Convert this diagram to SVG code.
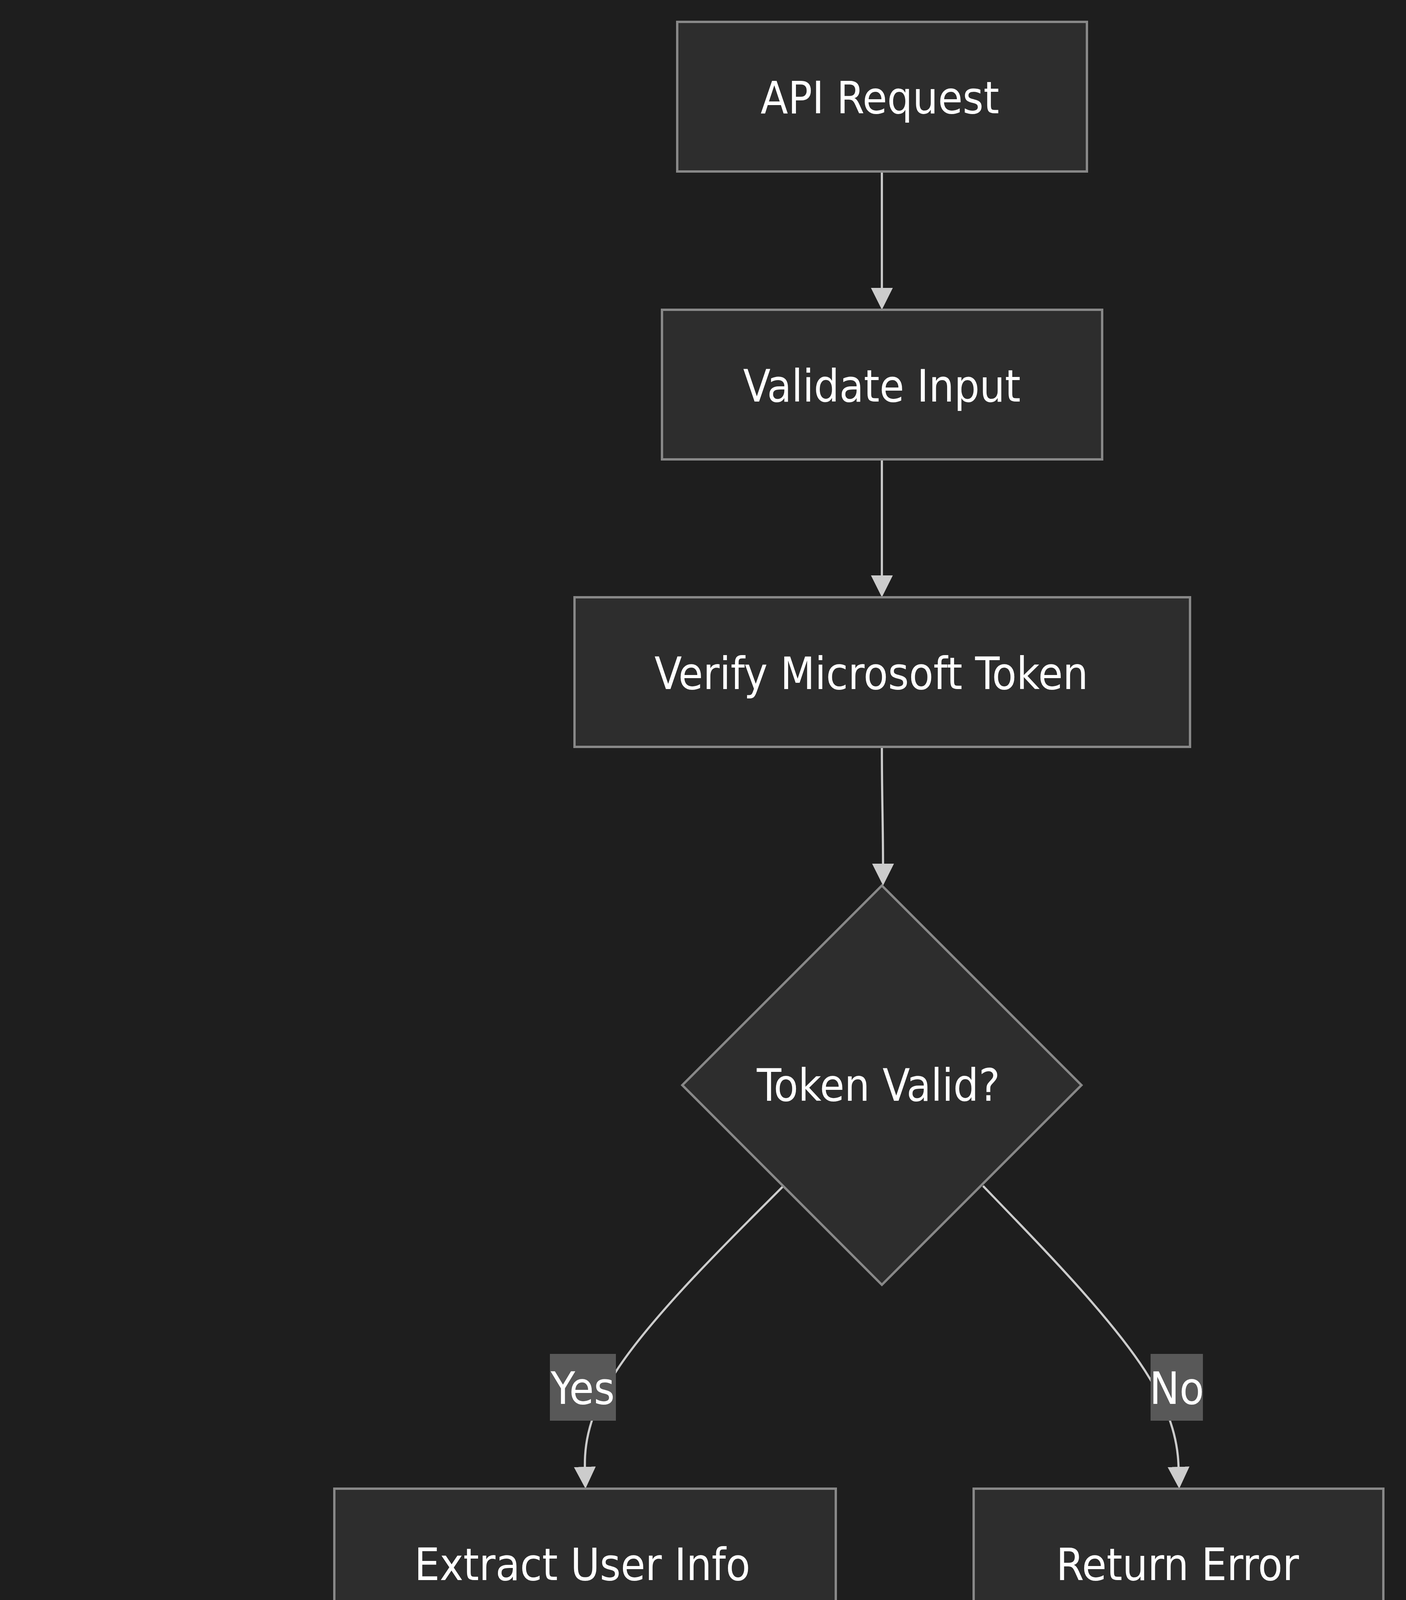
<svg xmlns="http://www.w3.org/2000/svg" width="3600" height="6802" viewBox="0 0 3600 6802">
<style>
.node{fill:#2d2d2d;stroke:#888888;stroke-width:6}
.edge{fill:none;stroke:#cccccc;stroke-width:5.5}
.lbl{fill:#585858}
text{font-family:'DejaVu Sans Condensed','DejaVu Sans',sans-serif;font-stretch:condensed;font-size:114px;fill:#ffffff;text-anchor:middle}
</style>
<defs>
<marker id="arrow" viewBox="0 0 56 56" refX="16" refY="28" markerUnits="userSpaceOnUse" markerWidth="56" markerHeight="56" orient="auto">
<path d="M0,0 L56,28 L0,56 z" fill="#cccccc"/>
</marker>
</defs>
<rect x="0" y="0" width="3600" height="6802" fill="#1e1e1e"/>
<g id="connectors">
<path class="edge" marker-end="url(#arrow)" d="M2258,439 L2258,753"/>
<path class="edge" marker-end="url(#arrow)" d="M2258,1176 L2258,1489"/>
<path class="edge" marker-end="url(#arrow)" d="M2258,1912 C2258,2050 2261,2100 2261,2227"/>
<path class="edge" marker-end="url(#arrow)" d="M2006,3036 L1920.3,3121.8 C1834.7,3207.7 1663.3,3379.3 1578.8,3508.5 C1494.3,3637.7 1496.7,3724.3 1497.8,3767.7 L1497.9,3771"/>
<path class="edge" marker-end="url(#arrow)" d="M2517,3036 L2599.7,3121.8 C2682.3,3207.7 2847.7,3379.3 2931.3,3508.5 C3015,3637.7 3017,3724.3 3018,3767.7 L3018.1,3771"/>
<path class="edge" marker-end="url(#arrow)" d="M1499,4194 L1499,4510"/>
<path class="edge" marker-end="url(#arrow)" d="M1111,4932 L1023.7,4975.8 C936.3,5019.7 761.7,5107.3 675,5208.5 C588.3,5309.7 589.7,5424.3 590.3,5481.7 L590.5,5499"/>
<path class="edge" marker-end="url(#arrow)" d="M1884,4932 L1969.7,4975.8 C2055.3,5019.7 2226.7,5107.3 2313.5,5194.5 C2400.3,5281.7 2402.7,5368.3 2403.8,5411.7 L2403.9,5415"/>
<path class="edge" marker-end="url(#arrow)" d="M592,5922 L592,5965.5 C592,6009 592,6096 664.2,6169.3 C736.3,6242.7 880.7,6302.3 952.8,6332.2 L988,6346.7"/>
<path class="edge" marker-end="url(#arrow)" d="M2403,6008 L2403,6037.2 C2403,6066.3 2403,6124.7 2331.2,6183.7 C2259.3,6242.7 2115.7,6302.3 2043.8,6332.2 L2008.9,6346.7"/>
</g>
<g id="edge-labels">
<g id="label-token-yes"><rect class="lbl" x="1408" y="3466" width="169" height="171"/><text x="1492" y="3594">Yes</text></g>
<g id="label-token-no"><rect class="lbl" x="2946" y="3466" width="134" height="171"/><text x="3013" y="3594">No</text></g>
<g id="label-user-yes"><rect class="lbl" x="502" y="5110" width="170" height="170"/><text x="587" y="5237">Yes</text></g>
<g id="label-user-no"><rect class="lbl" x="2331" y="5110" width="133" height="170"/><text x="2398" y="5237">No</text></g>
</g>
<g id="api-request"><rect class="node" x="1734" y="56" width="1049" height="383"/><text x="2253" y="290">API Request</text></g>
<g id="validate-input"><rect class="node" x="1695" y="793" width="1127" height="383"/><text x="2258" y="1028">Validate Input</text></g>
<g id="verify-token"><rect class="node" x="1471" y="1529" width="1576" height="383"/><text x="2231" y="1764">Verify Microsoft Token</text></g>
<g id="token-valid"><polygon class="node" points="2258,2267 2769,2778 2258,3289 1747,2778"/><text x="2249" y="2818">Token Valid?</text></g>
<g id="extract-user-info"><rect class="node" x="856" y="3811" width="1284" height="383"/><text x="1491" y="4045">Extract User Info</text></g>
<g id="return-error"><rect class="node" x="2493" y="3811" width="1049" height="383"/><text x="3015" y="4045">Return Error</text></g>
<g id="check-user-exists"><rect class="node" x="774" y="4550" width="1448" height="382"/><text x="1476" y="4783">Check if User Exists</text></g>
<g id="update-user"><rect class="node" x="55" y="5539" width="1075" height="383"/><text x="578" y="5773">Update User</text></g>
<g id="create-user"><rect class="node" x="1483" y="5455" width="1841" height="553"/><text x="2385" y="5687">Create New User with</text><text x="2402" y="5859">Student Role</text></g>
<g id="return-success"><rect class="node" x="886" y="6362" width="1226" height="383"/><text x="1476" y="6596">Return Success</text></g>
</svg>
